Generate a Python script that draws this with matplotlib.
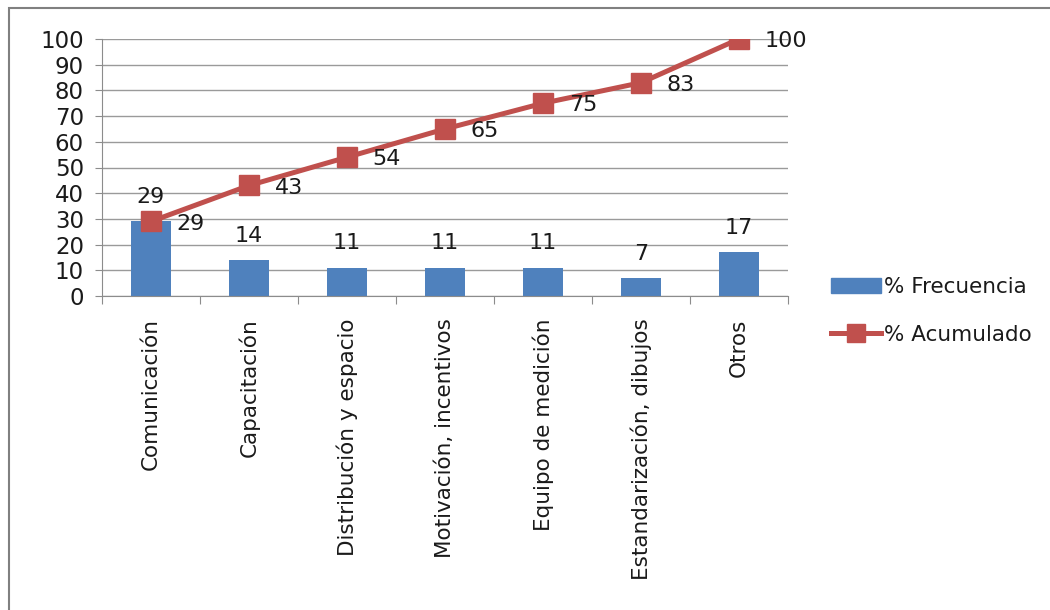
import matplotlib
matplotlib.use("Agg")
import matplotlib.pyplot as plt
from matplotlib.patches import Rectangle
from matplotlib.lines import Line2D
from matplotlib.patches import Patch

categories = ["Comunicación", "Capacitación", "Distribución y espacio",
              "Motivación, incentivos", "Equipo de medición",
              "Estandarización, dibujos", "Otros"]
frecuencia = [29, 14, 11, 11, 11, 7, 17]
acumulado = [29, 43, 54, 65, 75, 83, 100]
yticks = [0, 10, 20, 30, 40, 50, 60, 70, 80, 90, 100]

blue = "#4F81BD"
red = "#C0504D"
txt = "#1a1a1a"
plt.rcParams['font.family'] = ['DejaVu Sans']

fig = plt.figure(figsize=(10.5, 6.1), dpi=100)
fig.patches.append(Rectangle((9/1050, -0.1), 1.2, 1 - 8/610 + 0.1, transform=fig.transFigure,
                             fill=False, edgecolor="#808080", linewidth=1.5))
ax = fig.add_axes([102/1050, 1 - 296/610, 686/1050, 257/610])

x = list(range(len(categories)))
ax.bar(x, frecuencia, width=0.4, color=blue, zorder=2)
ax.plot(x, acumulado, color=red, linewidth=3.6, marker="s", markersize=14.5,
        markerfacecolor=red, markeredgecolor=red, zorder=3)

for xi, v in zip(x, frecuencia):
    ax.annotate(str(v), (xi, v), xytext=(0, 17.5), textcoords="offset points",
                ha="center", va="center", fontsize=16, color=txt)
for xi, v in zip(x, acumulado):
    ax.annotate(str(v), (xi, v), xytext=(18.5, -1.5), textcoords="offset points",
                ha="left", va="center", fontsize=16, color=txt)

ax.set_xlim(-0.5, len(categories) - 0.5)
ax.set_ylim(0, 100)
ax.set_yticks(yticks)
ax.set_yticklabels([str(t) for t in yticks], fontsize=16.5, color=txt)
ax.yaxis.grid(True, color="#9a9a9a", linewidth=1)
ax.set_axisbelow(True)
ax.tick_params(axis="y", length=5, color="#8c8c8c", pad=8)

ax.set_xticks([i - 0.5 for i in range(len(categories) + 1)])
ax.set_xticklabels([])
ax.set_xticks(x, minor=True)
ax.set_xticklabels(categories, minor=True, rotation=90, fontsize=15.5, color=txt)
ax.tick_params(axis="x", which="major", length=6, color="#8c8c8c")
ax.tick_params(axis="x", which="minor", length=0, pad=16)

for s in ["top", "right"]:
    ax.spines[s].set_visible(False)
ax.spines["left"].set_color("#8c8c8c")
ax.spines["bottom"].set_color("#8c8c8c")

handles = [Patch(facecolor=blue, edgecolor=blue),
           Line2D([0], [0], color=red, linewidth=3.6, marker="s", markersize=13)]
fig.legend(handles, ["% Frecuencia", "% Acumulado"], loc="center left",
           bbox_to_anchor=(812/1050, 1 - 311/610), frameon=False, fontsize=15.5,
           handlelength=2.3, handleheight=0.75, handletextpad=0.15, labelspacing=1.3,
           labelcolor=txt)

fig.savefig("out.png", dpi=100, facecolor="white")
